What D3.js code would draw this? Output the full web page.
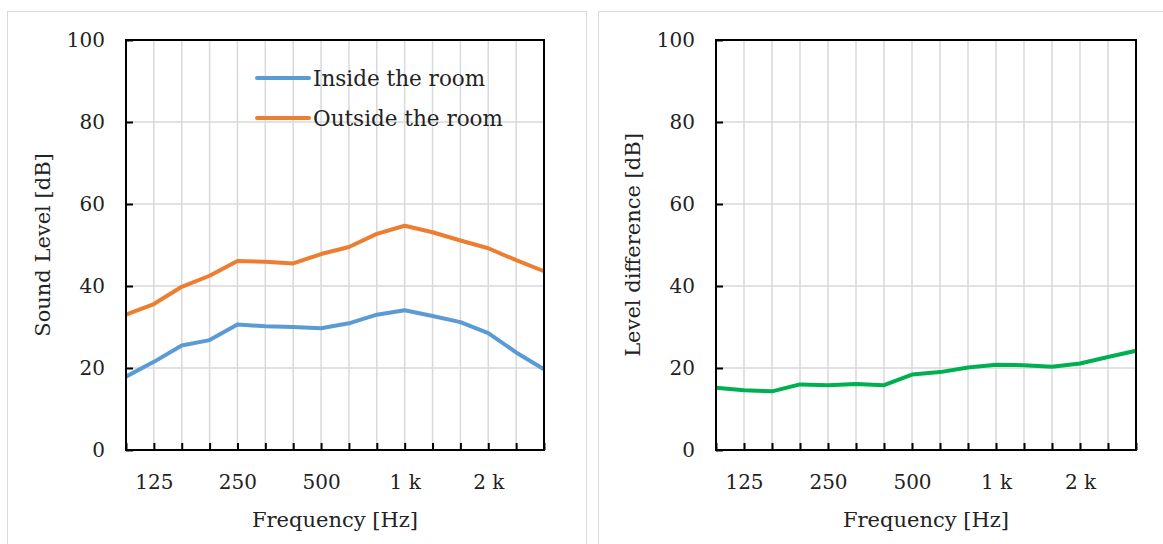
<!DOCTYPE html>
<html><head><meta charset="utf-8">
<script src="https://cdn.jsdelivr.net/npm/d3@7"></script>
<style>
html,body{margin:0;padding:0;background:#fff;}
svg{display:block;font-family:"Century Schoolbook","TeX Gyre Schola","DejaVu Serif","Liberation Serif",serif;}
</style></head>
<body>
<svg id="c" width="1163" height="544"></svg>
<script>
const freqs = [100,125,160,200,250,315,400,500,630,800,1000,1250,1600,2000,2500,3150];
const tickLabels = {125:"125",250:"250",500:"500",1000:"1 k",2000:"2 k"};
const yTicks = [0,20,40,60,80,100];
const inside  = [17.9,21.5,25.5,26.8,30.6,30.2,30.0,29.7,30.9,33.0,34.1,32.7,31.2,28.5,23.8,19.7];
const outside = [33.0,35.6,39.8,42.5,46.1,45.9,45.5,47.8,49.5,52.7,54.7,53.1,51.1,49.2,46.3,43.6];
const difference = [15.2,14.6,14.3,16.0,15.8,16.1,15.8,18.4,19.0,20.1,20.8,20.7,20.3,21.1,22.7,24.2];

const svg = d3.select("#c");
const font = 'Century Schoolbook, "DejaVu Serif", "Liberation Serif", serif';

// panel frames
svg.append("rect").attr("x",7.5).attr("y",11.5).attr("width",579).attr("height",560)
  .attr("fill","#fff").attr("stroke","#d9d9d9").attr("stroke-width",1);
svg.append("rect").attr("x",598.5).attr("y",11.5).attr("width",600).attr("height",560)
  .attr("fill","#fff").attr("stroke","#d9d9d9").attr("stroke-width",1);

function panel(opt){
  const g = svg.append("g");
  const x = d3.scalePoint().domain(freqs).range([opt.x0, opt.x1]);
  const y = d3.scaleLinear().domain([0,100]).range([450,40]);
  // gridlines
  g.append("g").selectAll("line.v").data(freqs).join("line")
    .attr("x1",d=>x(d)).attr("x2",d=>x(d)).attr("y1",y(100)).attr("y2",y(0))
    .attr("stroke","#d9d9d9").attr("stroke-width",1.5);
  g.append("g").selectAll("line.h").data(yTicks).join("line")
    .attr("x1",opt.x0).attr("x2",opt.x1).attr("y1",d=>y(d)).attr("y2",d=>y(d))
    .attr("stroke","#d9d9d9").attr("stroke-width",1.5);
  // lines
  const line = d3.line().x((d,i)=>x(freqs[i])).y(d=>y(d));
  opt.series.forEach(s=>{
    g.append("path").datum(s.values).attr("d",line).attr("fill","none")
      .attr("stroke",s.color).attr("stroke-width",4).attr("stroke-linejoin","round");
  });
  // frame
  g.append("rect").attr("x",opt.x0).attr("y",y(100)).attr("width",opt.x1-opt.x0).attr("height",y(0)-y(100))
    .attr("fill","none").attr("stroke","#000").attr("stroke-width",2);
  // x ticks (inward)
  const xa = d3.axisBottom(x).tickSizeInner(-7).tickSizeOuter(0).tickFormat(d=>tickLabels[d]||"").tickPadding(25);
  const xg = g.append("g").attr("transform",`translate(0,${y(0)})`).call(xa);
  xg.select(".domain").remove();
  xg.selectAll(".tick line").attr("stroke","#000").attr("stroke-width",2);
  xg.selectAll(".tick text").attr("fill","#222").style("font-family",font).style("font-size","20px");
  // y ticks (inward)
  const ya = d3.axisLeft(y).tickValues(yTicks).tickSizeInner(-7).tickSizeOuter(0).tickPadding(21);
  const yg = g.append("g").attr("transform",`translate(${opt.x0},0)`).call(ya);
  yg.select(".domain").remove();
  yg.selectAll(".tick line").attr("stroke","#000").attr("stroke-width",2);
  yg.selectAll(".tick text").attr("fill","#222").style("font-family",font).style("font-size","20px");
  // titles
  g.append("text").attr("x",(opt.x0+opt.x1)/2).attr("y",527).attr("text-anchor","middle")
    .attr("fill","#222").style("font-family",font).style("font-size","21px").text("Frequency [Hz]");
  g.append("text").attr("transform",`translate(${opt.ytx},245) rotate(-90)`).attr("text-anchor","middle")
    .attr("fill","#222").style("font-family",font).style("font-size","21px").text(opt.ytitle);
  return {g,x,y};
}

const p1 = panel({x0:126,x1:544,ytx:50,ytitle:"Sound Level [dB]",
  series:[{values:inside,color:"#5B9BD5"},{values:outside,color:"#ED7D31"}]});
panel({x0:716,x1:1136,ytx:640,ytitle:"Level difference [dB]",
  series:[{values:difference,color:"#00B050"}]});

// legend
const legend = [{name:"Inside the room",color:"#5B9BD5"},{name:"Outside the room",color:"#ED7D31"}];
const lg = p1.g.append("g");
legend.forEach((d,i)=>{
  const yy = 78 + i*40;
  lg.append("line").attr("x1",257).attr("x2",309).attr("y1",yy).attr("y2",yy)
    .attr("stroke",d.color).attr("stroke-width",4).attr("stroke-linecap","round");
  lg.append("text").attr("x",313).attr("y",yy+8).attr("fill","#222")
    .style("font-family",font).style("font-size","21.5px").text(d.name);
});
</script>
</body></html>
